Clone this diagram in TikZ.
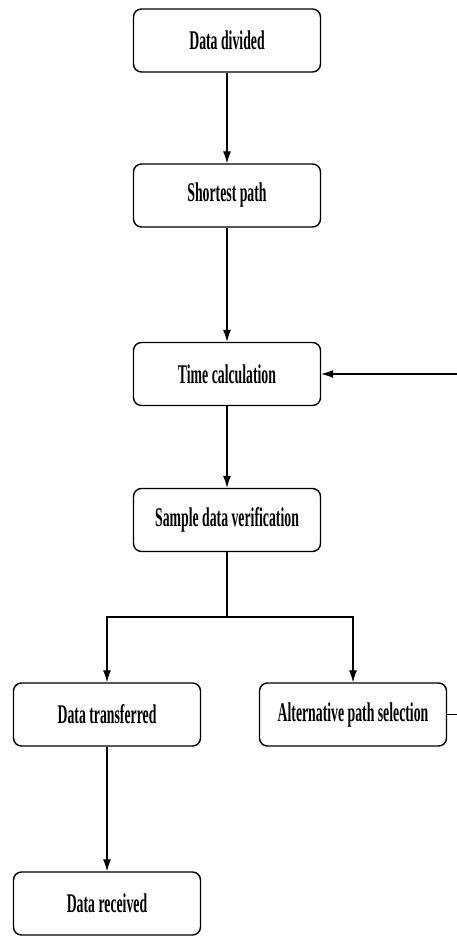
\documentclass[tikz,border=0pt]{standalone}
\usepackage{fontspec}
\setmainfont{Liberation Serif}[FakeStretch=0.51]
\usetikzlibrary{arrows.meta}
\tikzset{
  stepbox/.style={draw, line width=1.4pt, rounded corners=8pt, minimum width=187pt, minimum height=63pt, inner sep=0pt, font=\fontsize{27}{30}\selectfont\bfseries, align=center},
  arr/.style={line width=1.1pt, -{Latex[length=12pt,width=8pt]}},
  ln/.style={line width=1.1pt}
}
\begin{document}
\begin{tikzpicture}[x=1pt,y=-1pt]
\useasboundingbox (0,0) rectangle (457,936);
\node[stepbox] (div) at (227,40.5) {Data divided};
\node[stepbox] (short) at (227,195.5) {Shortest path};
\node[stepbox] (time) at (227,374) {Time calculation};
\node[stepbox] (sample) at (227,520) {Sample data verification};
\node[stepbox] (trans) at (107,714.5) {Data transferred};
\node[stepbox] (alt) at (353,714.5) {Alternative path selection};
\node[stepbox] (recv) at (107,903.5) {Data received};
\coordinate (split) at (227,617);
\coordinate (redge) at (464,714.5);
\draw[arr] (div) -- (short);
\draw[arr] (short) -- (time);
\draw[arr] (time) -- (sample);
\draw[ln] (sample.south) -- (split);
\draw[arr] (split) -| (trans.north);
\draw[arr] (split) -| (alt.north);
\draw[arr] (trans) -- (recv);
\draw[arr] (alt.east) -- (redge) |- (time.east);
\end{tikzpicture}
\end{document}
